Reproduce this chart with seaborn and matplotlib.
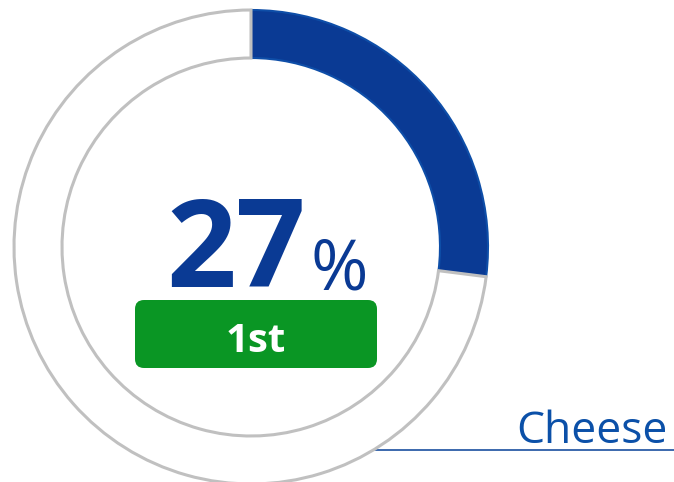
import matplotlib
matplotlib.use("Agg")
import matplotlib.pyplot as plt
from matplotlib.patches import FancyBboxPatch
import seaborn as sns

# data
shares = [27, 73]
share_label = "27"
rank_label = "1st"
category = "Cheese"

sns.set_style("white")
plt.rcParams['font.family'] = ['Open Sans', 'DejaVu Sans']

W, H = 674, 482
fig = plt.figure(figsize=(W / 100, H / 100), dpi=100)
ax = fig.add_axes([0, 0, 1, 1])

cx, cy, r = 251, H - 247, 237
wedges, _ = ax.pie(shares, startangle=90, counterclock=False, center=(cx, cy),
                   radius=r, wedgeprops=dict(width=48, linewidth=2.2))
wedges[0].set_facecolor('#0a3a94')
wedges[0].set_edgecolor('#0e4ea8')
wedges[0].set_linewidth(1.5)
wedges[1].set_facecolor('white')
wedges[1].set_edgecolor('#c0c0c0')
wedges[1].set_zorder(3)

ax.set_xlim(0, W)
ax.set_ylim(0, H)
ax.set_aspect('equal')
ax.axis('off')

ax.text(306, H - 287, share_label, ha='right', va='baseline', fontsize=88,
        fontweight='bold', color='#0a3a94')
ax.text(310, H - 289, '%', ha='left', va='baseline', fontsize=50,
        color='#0a3a94')

box = FancyBboxPatch((135, H - 368), 242, 68, boxstyle="round,pad=0,rounding_size=9",
                     facecolor='#0a9624', edgecolor='none', zorder=4)
ax.add_patch(box)
ax.text(256, H - 352, rank_label, ha='center', va='baseline', fontsize=29,
        fontweight='bold', color='white', zorder=5)

ax.text(668, H - 443, category, ha='right', va='baseline', fontsize=32,
        color='#0b50a8')
ax.plot([372, W], [H - 450, H - 450], color='#1a4fa0', lw=1.2)

fig.savefig('out.png', dpi=100)
